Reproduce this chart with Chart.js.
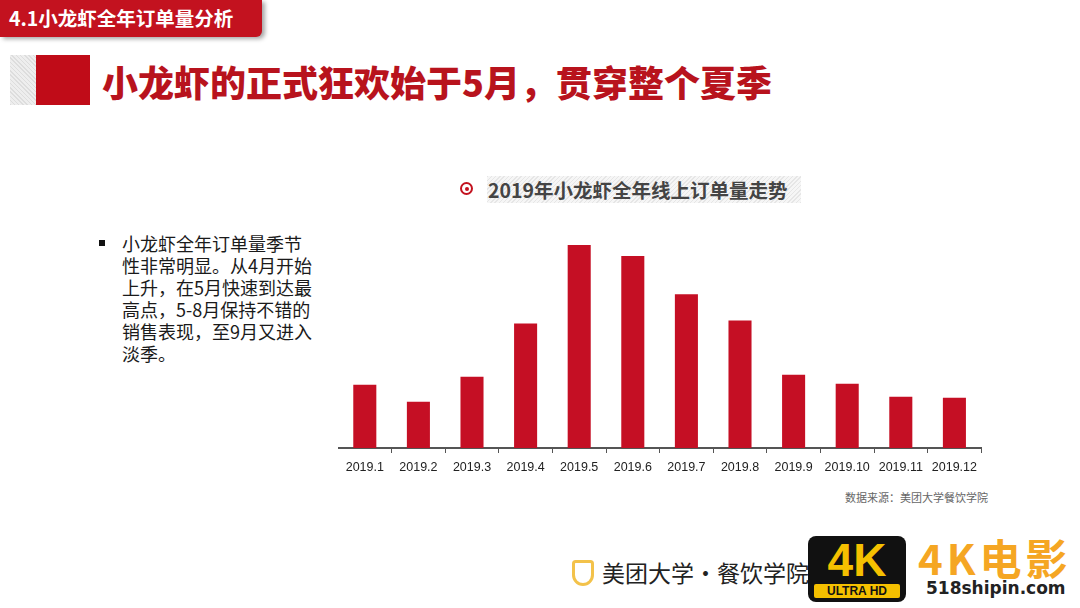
<!DOCTYPE html>
<html>
<head>
<meta charset="utf-8">
<script src="https://cdn.jsdelivr.net/npm/chart.js@4"></script>
<style>
  body { margin: 0; width: 1080px; height: 608px; background: #fff; position: relative; overflow: hidden;
         font-family: "Noto Sans CJK SC", "Noto Sans", sans-serif; }
  .tag { position: absolute; left: 0; top: 0; width: 262px; height: 37px; background: #c3121f;
         border-radius: 0 0 6px 0; box-shadow: 3px 2px 4px rgba(0,0,0,0.35); }
  .tag span { position: absolute; left: 9px; top: 4px; color: #fff; font-size: 19.5px; font-weight: bold; line-height: 28px; }
  .grayBox { position: absolute; left: 10px; top: 55px; width: 26px; height: 50px;
             background: repeating-linear-gradient(45deg, #ddd 0 1px, #eee 1px 3px); }
  .redBox { position: absolute; left: 36px; top: 55px; width: 54px; height: 50px; background: #c00c18; }
  .title { position: absolute; left: 102px; top: 56px; color: #b8131d; font-size: 36px; font-weight: 900; line-height: 50px; }
  .ctitle { position: absolute; left: 487px; top: 176px; width: 314px; height: 27px;
            background: repeating-linear-gradient(135deg, #e6e6e6 0 1px, #f6f6f6 1px 3px);
            color: #444; font-size: 19.5px; font-weight: bold; line-height: 27px; }
  .ctitle span { margin-left: 1px; }
  .dot { position: absolute; left: 460px; top: 182px; width: 13px; height: 13px; border-radius: 50%;
         border: 2px solid #c3121f; box-sizing: border-box; }
  .dot::after { content: ""; position: absolute; left: 2.5px; top: 2.5px; width: 4px; height: 4px; border-radius: 50%; background: #c3121f; }
  .bullet { position: absolute; left: 99px; top: 240px; width: 6px; height: 6px; background: #111; }
  .text { position: absolute; left: 122px; top: 232px; width: 195px; color: #1a1a1a; font-size: 18px; line-height: 22px; }
  .source { position: absolute; left: 845px; top: 489px; color: #666; font-size: 11px; }
  #box { position: absolute; left: 338px; top: 232px; width: 646px; height: 250px; }
  .logo { position: absolute; left: 572px; top: 556px; color: #222; font-size: 23px; line-height: 32px; }
  .logo i { display: inline-block; width: 22px; height: 26px; border: 3px solid #f3c24a; border-radius: 4px 4px 12px 12px;
            box-sizing: border-box; vertical-align: -4px; margin-right: 8px; }
  .badge { position: absolute; left: 808px; top: 536px; width: 98px; height: 66px; background: #111; border-radius: 8px;
           color: #f5c000; text-align: center; font-family: "Liberation Sans", sans-serif; font-weight: bold; }
  .badge b { display: block; font-size: 46px; line-height: 48px; }
  .badge small { display: block; font-size: 12px; line-height: 14px; background: #f5c000; color: #111; margin: 0 6px; border-radius: 2px; }
  .k4 { position: absolute; left: 918px; top: 532px; color: #f5a623; font-size: 42px; font-weight: bold; line-height: 50px; letter-spacing: 4px; }
  .site { position: absolute; left: 926px; top: 577px; color: #222; font-size: 17px; font-weight: bold; font-family: "DejaVu Sans", sans-serif; line-height: 22px; }
</style>
</head>
<body>
<div class="tag"><span>4.1小龙虾全年订单量分析</span></div>
<div class="grayBox"></div>
<div class="redBox"></div>
<div class="title">小龙虾的正式狂欢始于5月，贯穿整个夏季</div>
<div class="dot"></div>
<div class="ctitle"><span>2019年小龙虾全年线上订单量走势</span></div>
<div class="bullet"></div>
<div class="text">小龙虾全年订单量季节性非常明显。从4月开始上升，在5月快速到达最高点，5-8月保持不错的销售表现，至9月又进入淡季。</div>
<div id="box"><canvas id="myChart"></canvas></div>
<div class="source">数据来源：美团大学餐饮学院</div>
<div class="logo"><i></i>美团大学·餐饮学院</div>
<div class="badge"><b>4K</b><small>ULTRA HD</small></div>
<div class="k4">4K电影</div>
<div class="site">518shipin.com</div>
<script>
var months = ['2019.1', '2019.2', '2019.3', '2019.4', '2019.5', '2019.6', '2019.7', '2019.8', '2019.9', '2019.10', '2019.11', '2019.12'];
var orders = [63, 46, 71, 124, 202, 191, 153, 127, 73, 64, 51, 50];

var ctx = document.getElementById('myChart').getContext('2d');
var myChart = new Chart(ctx, {
  type: 'bar',
  data: {
    labels: months,
    datasets: [{
      label: '订单量',
      data: orders,
      backgroundColor: '#c50f24',
      categoryPercentage: 1,
      barPercentage: 0.43
    }]
  },
  options: {
    responsive: true,
    maintainAspectRatio: false,
    animation: false,
    layout: { padding: 0 },
    plugins: { legend: { display: false }, tooltip: { enabled: false } },
    scales: {
      x: {
        grid: { drawOnChartArea: false, drawTicks: true, tickLength: 5, color: '#555', offset: true },
        border: { display: true, color: '#555', width: 2 },
        ticks: { color: '#222', font: { size: 12.5, family: 'Liberation Sans Narrow, Liberation Sans, sans-serif' }, padding: 7, maxRotation: 0, autoSkip: false }
      },
      y: {
        display: false,
        beginAtZero: true,
        max: 215
      }
    }
  }
});
</script>
</body>
</html>
